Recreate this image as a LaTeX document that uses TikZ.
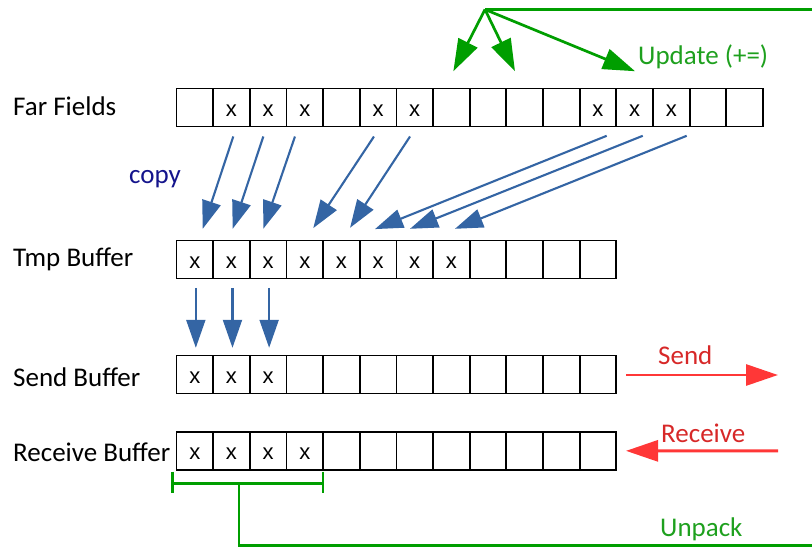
\documentclass[tikz,border=0pt]{standalone}
\usepackage{fontspec}
\setmainfont{Carlito}
\newfontfamily\xfont{Liberation Sans}
\usetikzlibrary{arrows.meta,calc}
\definecolor{cblue}{RGB}{52,101,164}
\definecolor{cgreen}{RGB}{0,158,0}
\definecolor{tgreen}{RGB}{30,160,30}
\definecolor{cred}{RGB}{255,55,55}
\definecolor{tred}{RGB}{215,40,40}
\definecolor{cnavy}{RGB}{20,20,140}
\begin{document}
\begin{tikzpicture}[x=1pt,y=-1pt,
  cell/.style={draw=black,line width=1.8pt,minimum width=36.65pt,minimum height=38pt,inner sep=0pt,outer sep=0pt},
  xmk/.style={font=\xfont\fontsize{22}{22}\selectfont,anchor=base,inner sep=0pt},
  lbl/.style={font=\fontsize{27}{30}\selectfont,anchor=base west,inner sep=0pt},
  copyarrow/.style={draw=cblue,line width=2.1pt,-{Triangle[length=28pt,width=19pt]}},
  updarrow/.style={draw=cgreen,line width=2.7pt,-{Triangle[length=32pt,width=21pt]}},
  redarrow/.style={draw=cred,line width=2.9pt,-{Triangle[length=32pt,width=21pt]}},
  gline/.style={draw=cgreen,line width=2.7pt}
]
\useasboundingbox (0,0) rectangle (812,547);
\clip (0,0) rectangle (812,547);
% rows of cells
\foreach \i in {1,...,16} \node[cell] (f\i) at ({176.5+(\i-0.5)*36.65},107.5) {};
\foreach \i in {1,...,12} \node[cell] (t\i) at ({176.5+(\i-0.5)*36.65},259.5) {};
\foreach \i in {1,...,12} \node[cell] (s\i) at ({176.5+(\i-0.5)*36.65},374.5) {};
\foreach \i in {1,...,12} \node[cell] (r\i) at ({176.5+(\i-0.5)*36.65},450.85) {};
% marks
\foreach \i in {2,3,4,6,7,12,13,14} \node[xmk] (fx\i) at ($(f\i.center)+(0,8.5)$) {x};
\foreach \i in {1,...,8} \node[xmk] (tx\i) at ($(t\i.center)+(0,8.5)$) {x};
\foreach \i in {1,2,3} \node[xmk] (sx\i) at ($(s\i.center)+(0,8.5)$) {x};
\foreach \i in {1,...,4} \node[xmk] (rx\i) at ($(r\i.center)+(0,8.5)$) {x};
% labels
\node[lbl] (lfar) at (13,115.7) {Far Fields};
\node[lbl] (ltmp) at (13,266) {Tmp Buffer};
\node[lbl] (lsend) at (13,386) {Send Buffer};
\node[lbl] (lrecv) at (13,461) {Receive Buffer};
\node[lbl,text=cnavy] (lcopy) at (129,183.5) {copy};
\node[lbl,text=tgreen] (lupd) at (638,64.5) {Update (+=)};
\node[lbl,text=tred] (lsendt) at (658,364.3) {Send};
\node[lbl,text=tred] (lrecvt) at (661,442.3) {Receive};
\node[lbl,text=tgreen] (lunp) at (660,536.7) {Unpack};
% copy arrows
\draw[copyarrow] ($(f2.south)+(1.8,10)$) -- ($(t1.north)+(7.9,-11.7)$);
\draw[copyarrow] ($(f3.south)+(-4.8,10)$) -- ($(t2.north)+(1.2,-11.7)$);
\draw[copyarrow] ($(f4.south)+(-9.8,10)$) -- ($(t3.north)+(-4.8,-11.7)$);
\draw[copyarrow] ($(f6.south)+(-4.1,10)$) -- ($(t4.north)+(8.5,-12.4)$);
\draw[copyarrow] ($(f7.south)+(-4.7,10)$) -- ($(t5.north)+(8.6,-12.7)$);
\draw[copyarrow] ($(f12.south)+(8.7,9.3)$) -- ($(t6.north)+(-3.1,-11.4)$);
\draw[copyarrow] ($(f13.south)+(8.1,9.3)$) -- ($(t7.north)+(-4.7,-11.7)$);
\draw[copyarrow] ($(f14.south)+(15.4,9.3)$) -- ($(t8.north)+(3.6,-11.7)$);
\foreach \i in {1,2,3} \draw[copyarrow] ($(t\i.south)+(1,9.4)$) -- ($(s\i.north)+(1,-7.7)$);
% send / receive
\coordinate (sendend) at (778,375);
\coordinate (recvstart) at (778,450.8);
\draw[redarrow] ($(s12.east)+(9.7,0.5)$) -- (sendend);
\draw[redarrow] (recvstart) -- ($(r12.east)+(9.7,0)$);
% unpack / update loop
\coordinate (hub) at (485,9.5);
\coordinate (bl) at ($(r1.south west)+(-3.8,13.3)$);
\coordinate (br) at ($(r4.south east)+(0,13.3)$);
\coordinate (bm) at ($(bl)+(66.3,0)$);
\coordinate (cbl) at (239,545.3);
\coordinate (cbr) at (830,545.3);
\coordinate (ctr) at (830,9.5);
\draw[gline] (bl) -- (br);
\draw[gline] ($(bl)+(0,-11.5)$) -- ($(bl)+(0,10)$);
\draw[gline] ($(br)+(0,-11.5)$) -- ($(br)+(0,10)$);
\draw[gline] (bm) -- (cbl) -- (cbr) -- (ctr) -- (hub);
\draw[updarrow] (hub) -- ($(f8.north)+(2,-17.3)$);
\draw[updarrow] (hub) -- ($(f10.north)+(-9.7,-17.3)$);
\draw[updarrow] (hub) -- ($(f13.north)+(0.4,-17.3)$);
\end{tikzpicture}
\end{document}
